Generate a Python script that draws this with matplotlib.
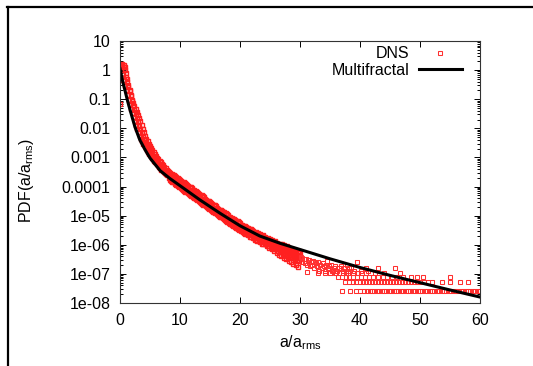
import numpy as np
import matplotlib
matplotlib.use('Agg')
import matplotlib.pyplot as plt
from matplotlib.lines import Line2D
from matplotlib.ticker import FixedLocator, LogLocator, NullFormatter

plt.rcParams['font.family'] = ['Liberation Sans', 'DejaVu Sans']
plt.rcParams['mathtext.fontset'] = 'custom'
plt.rcParams['mathtext.rm'] = 'Liberation Sans'
plt.rcParams['mathtext.it'] = 'Liberation Sans:italic'

# multifractal model curve
mf_a = [0, 0.4, 0.83, 1.25, 1.67, 2.5, 3.3, 4.2, 5, 6.7, 8.3, 10, 13.3,
        16.7, 20, 23.3, 26.7, 30, 35, 40, 45, 50, 55, 60]
mf_pdf = [1.12, 0.45, 0.2, 0.089, 0.043, 0.011, 0.004, 1.8e-3, 9.5e-4,
          3.5e-4, 1.9e-4, 1.07e-4, 3.5e-5, 1.2e-5, 4.5e-6, 2.0e-6, 1.12e-6,
          6.9e-7, 3.3e-7, 1.66e-7, 8.9e-8, 5.0e-8, 2.8e-8, 1.6e-8]

# DNS histograms (log10 pdf), three overlapping runs, bins of width 0.2.
# runs A and C start at a = 0.0, run B at a = 0.1
bin_width = 0.2
dns_log_A = [
    0.14, 0.18, 0.20, 0.19, 0.10, -0.10, -0.30, -0.50, -0.68, -0.84,
    -1.01, -1.14, -1.24, -1.34, -1.44, -1.54, -1.64, -1.74, -1.88, -2.01,
    -2.13, -2.25, -2.36, -2.45, -2.53, -2.61, -2.68, -2.75, -2.82, -2.89,
    -2.96, -3.02, -3.07, -3.12, -3.17, -3.22, -3.27, -3.32, -3.37, -3.42,
    -3.47,
    -3.50, -3.53, -3.56, -3.59, -3.62, -3.65, -3.68, -3.71, -3.74, -3.77,
    -3.80, -3.83, -3.86, -3.88, -3.91, -3.94, -3.97, -4.00, -4.03, -4.06,
    -4.11, -4.13, -4.16, -4.19, -4.22, -4.25, -4.28, -4.30, -4.33, -4.36,
    -4.42, -4.45, -4.48, -4.50, -4.53, -4.56, -4.59, -4.62, -4.65, -4.68,
    -4.74, -4.77, -4.79, -4.82, -4.84, -4.87, -4.89, -4.92, -4.94, -4.97,
    -5.03, -5.06, -5.08, -5.11, -5.13, -5.15, -5.18, -5.20, -5.23, -5.25,
    -5.31, -5.33, -5.35, -5.37, -5.39, -5.41, -5.43, -5.45, -5.47, -5.49,
    -5.52, -5.58, -5.56, -5.62, -5.60, -5.66, -5.63, -5.69, -5.67, -5.73,
    -5.74, -5.80, -5.78, -5.83, -5.81, -5.87, -5.84, -5.90, -5.87, -5.93,
    -5.93, -5.99, -5.96, -6.02, -5.99, -6.05, -6.02, -6.08, -6.05, -6.11,
    -6.11, -6.17, -6.14, -6.20, -6.17, -6.22, -6.20, -6.25, -6.22, -6.27]
dns_log_B = [
    0.17, 0.12, -0.15, -0.35, -0.53, -0.68, -0.84, -1.01, -1.17, -1.32,
    -1.46, -1.60, -1.74, -1.88, -2.01, -2.13, -2.25, -2.36, -2.45, -2.53,
    -2.61, -2.68, -2.75, -2.82, -2.89, -2.96, -3.02, -3.07, -3.12, -3.17,
    -3.22, -3.27, -3.32, -3.37, -3.42, -3.46, -3.51, -3.55, -3.58, -3.61,
    -3.70, -3.77, -3.80, -3.83, -3.86, -3.90, -3.93, -3.96, -3.99, -4.02,
    -4.05, -4.08, -4.11, -4.14, -4.17, -4.20, -4.23, -4.26, -4.29, -4.32,
    -4.35, -4.38, -4.41, -4.44, -4.47, -4.50, -4.53, -4.56, -4.59, -4.62,
    -4.65, -4.68, -4.71, -4.74, -4.77, -4.80, -4.83, -4.86, -4.89, -4.92,
    -4.94, -4.97, -5.00, -5.03, -5.06, -5.09, -5.12, -5.15, -5.18, -5.21,
    -5.24, -5.27, -5.30, -5.33, -5.36, -5.38, -5.41, -5.44, -5.47, -5.50,
    -5.51, -5.53, -5.57, -5.58, -5.62, -5.63, -5.67, -5.68, -5.72, -5.73,
    -5.76, -5.77, -5.82, -5.82, -5.87, -5.87, -5.92, -5.92, -5.97, -5.96,
    -5.99, -5.98, -6.05, -6.03, -6.10, -6.07, -6.16, -6.12, -6.22, -6.16,
    -6.28, -6.20, -6.34, -6.25, -6.40, -6.29, -6.45, -6.33, -6.50, -6.37,
    -6.55, -6.41, -6.60, -6.45, -6.65, -6.48, -6.70, -6.52, -6.75, -6.55]
dns_log_C = [
    0.17, 0.19, 0.16, 0.10, 0.00, -0.22, -0.40, -0.57, -0.72, -0.89,
    -1.05, -1.21, -1.36, -1.50, -1.64, -1.78, -1.91, -2.04, -2.16, -2.28,
    -2.38, -2.47, -2.55, -2.63, -2.70, -2.77, -2.84, -2.91, -2.97, -3.03,
    -3.08, -3.13, -3.18, -3.23, -3.28, -3.33, -3.38, -3.43, -3.47, -3.51,
    -3.55,
    -3.62, -3.65, -3.68, -3.71, -3.74, -3.77, -3.80, -3.83, -3.86, -3.89,
    -3.92, -3.95, -3.98, -4.00, -4.03, -4.06, -4.09, -4.12, -4.15, -4.18,
    -4.23, -4.25, -4.28, -4.31, -4.34, -4.37, -4.40, -4.42, -4.45, -4.48,
    -4.54, -4.57, -4.60, -4.62, -4.65, -4.68, -4.71, -4.74, -4.77, -4.80,
    -4.85, -4.88, -4.90, -4.93, -4.95, -4.98, -5.00, -5.03, -5.05, -5.08,
    -5.14, -5.17, -5.19, -5.22, -5.24, -5.26, -5.29, -5.31, -5.34, -5.36,
    -5.42, -5.44, -5.46, -5.48, -5.50, -5.52, -5.54, -5.56, -5.58, -5.60,
    -5.62, -5.72, -5.66, -5.76, -5.70, -5.80, -5.73, -5.83, -5.77, -5.87,
    -5.85, -5.95, -5.89, -5.98, -5.92, -6.02, -5.95, -6.05, -5.98, -6.08,
    -6.06, -6.16, -6.09, -6.19, -6.12, -6.22, -6.15, -6.25, -6.18, -6.28,
    -6.26, -6.36, -6.29, -6.39, -6.32, -6.41, -6.35, -6.44, -6.37, -6.46]

# odd points near a = 0
dns0_a = [0.0, 0.0]
dns0_pdf = [0.45, 0.07]

# scattered tail points beyond a = 30 (log10 pdf)
tail_a = [30.2, 30.4, 30.6, 30.8, 31.0, 31.2, 31.4, 31.6, 31.8, 32.0,
          32.2, 32.4, 32.6, 32.8, 33.0, 33.2, 33.4, 33.6, 33.8, 34.0,
          34.2, 34.4, 34.6, 34.8, 35.0, 35.2, 35.4, 35.6, 35.8, 36.0,
          36.2, 36.5, 36.8, 37.1, 37.4, 37.7, 38.0, 38.5, 39.0, 39.6,
          40.2, 41.0, 30.3, 31.5, 32.5, 34.5, 37.8, 39.5]
tail_log = [-6.42, -6.58, -6.48, -6.63, -6.50, -6.68, -6.54, -6.74, -6.58, -6.68,
            -6.55, -6.81, -6.63, -6.74, -6.60, -6.89, -6.68, -6.81, -6.63, -6.74,
            -6.89, -6.68, -6.81, -6.74, -6.98, -6.68, -6.89, -6.81, -6.74, -6.98,
            -6.89, -6.81, -6.74, -6.89, -6.81, -6.98, -6.89, -6.81, -6.89, -6.98,
            -6.89, -6.81, -6.46, -6.52, -6.59, -6.57, -6.68, -6.60]
high_a = [31.1, 35.5, 38.2, 41.3, 43.0, 45.8]
high_pdf = [1.2e-7, 1.3e-7, 1.56e-7, 1.3e-7, 1.56e-7, 1.56e-7]

# count levels of the histogram tail (1, 2, 3, 4 samples per bin)
lvl1_pdf = 2.6e-8
lvl1_a = [37.0, 38.3, 39.4, 40.0, 40.6, 41.2, 41.6, 42.0, 42.4, 42.8,
          43.2, 43.6, 44.0, 44.4, 44.8, 45.2, 45.6, 46.0, 46.4, 46.8,
          47.2, 47.6, 48.0, 48.4, 48.8, 49.2, 49.6, 50.0, 50.4, 50.8,
          51.2, 51.6, 52.0, 52.4, 52.8, 53.2, 53.6, 54.0, 54.4, 54.8,
          55.2, 55.6, 56.0, 56.4, 56.8, 57.2, 57.6, 58.0, 58.4, 58.8,
          59.2, 59.6, 60.0]
lvl2_pdf = 5.2e-8
lvl2_a = [37.5, 38.2, 38.8, 39.4, 40.0, 40.5, 41.0, 41.5, 42.0, 42.5,
          43.0, 43.5, 44.0, 44.5, 45.0, 45.5, 46.0, 46.5, 47.0, 47.5,
          48.0, 48.5, 49.0, 49.5, 50.0, 50.6, 51.3, 52.0, 53.7, 55.0,
          56.7, 58.0]
lvl3_pdf = 7.8e-8
lvl3_a = [36.3, 37.0, 37.6, 38.2, 38.8, 39.5, 40.2, 40.8, 41.5, 42.2,
          43.0, 43.8, 44.5, 45.3, 46.2, 47.2, 48.5, 49.5, 50.5, 55.0]
lvl4_pdf = 1.04e-7
lvl4_a = [33.0, 34.2, 35.0, 35.8, 36.5, 37.2, 38.0, 38.8, 39.5, 40.3,
          41.0, 42.5, 44.0, 46.7]

ytick_vals = [10, 1, 0.1, 0.01, 0.001, 0.0001, 1e-5, 1e-6, 1e-7, 1e-8]
ytick_labels = ['10', '1', '0.1', '0.01', '0.001', '0.0001',
                '1e-05', '1e-06', '1e-07', '1e-08']
xtick_vals = [0, 10, 20, 30, 40, 50, 60]


dns_a_A = np.arange(len(dns_log_A)) * bin_width
dns_a_B = np.arange(len(dns_log_B)) * bin_width + bin_width / 2
dns_a_C = np.arange(len(dns_log_C)) * bin_width

band_a = np.concatenate([dns0_a, dns_a_A, dns_a_B, dns_a_C])
band_pdf = np.concatenate([dns0_pdf, 10.0 ** np.array(dns_log_A),
                           10.0 ** np.array(dns_log_B),
                           10.0 ** np.array(dns_log_C)])
sparse_a = np.concatenate([tail_a, high_a, lvl1_a, lvl2_a, lvl3_a, lvl4_a])
sparse_pdf = np.concatenate([10.0 ** np.array(tail_log), high_pdf,
                             [lvl1_pdf] * len(lvl1_a), [lvl2_pdf] * len(lvl2_a),
                             [lvl3_pdf] * len(lvl3_a), [lvl4_pdf] * len(lvl4_a)])

fig = plt.figure(figsize=(5.33, 3.66), dpi=100)
ax = fig.add_axes([120 / 533, 1 - 303 / 366, 360 / 533, 262 / 366])

ax.plot(band_a, band_pdf, ls='none', marker='s', ms=3.2, mfc='none',
        mec='#ff2020', mew=1.0, label='_nolegend_')
ax.plot(sparse_a, sparse_pdf, ls='none', marker='s', ms=3.2, mfc='none',
        mec='#ff3030', mew=0.75, label='DNS')
ax.plot(mf_a, mf_pdf, color='black', lw=2.2, label='Multifractal')

ax.set_yscale('log')
ax.set_xlim(0, 60)
ax.set_ylim(1e-8, 10)

ax.yaxis.set_major_locator(FixedLocator(ytick_vals))
ax.set_yticklabels(ytick_labels)
ax.yaxis.set_minor_locator(LogLocator(base=10, subs=range(2, 10), numticks=100))
ax.yaxis.set_minor_formatter(NullFormatter())
ax.set_xticks(xtick_vals)

ax.tick_params(which='both', direction='in', top=True, right=True,
               labelsize=11.5, width=0.7)
ax.tick_params(which='major', length=4, pad=7)
ax.tick_params(which='minor', length=2)
for s in ax.spines.values():
    s.set_linewidth(0.8)
    s.set_color('#333333')

fig.text(27 / 533, 1 - 180 / 366, 'PDF(a/a$_{\\mathrm{rms}}$)', rotation=90,
         ha='center', va='center', fontsize=11.5)
fig.text(300 / 533, 1 - 343 / 366, 'a/a$_{\\mathrm{rms}}$',
         ha='center', va='center', fontsize=11.5)

ax.legend(loc='upper right', bbox_to_anchor=((462 - 120) / 360, 0.98),
          markerfirst=False, frameon=False, numpoints=1, fontsize=11.5,
          handlelength=2.7, handletextpad=0.6, labelspacing=0.1,
          borderaxespad=0, borderpad=0)

# page border lines (top and left)
fig.add_artist(Line2D([7 / 533, 1], [1 - 6.5 / 366, 1 - 6.5 / 366],
                      color='black', lw=1.6))
fig.add_artist(Line2D([7.5 / 533, 7.5 / 533], [0, 1 - 6.5 / 366],
                      color='black', lw=1.6))

fig.savefig('out.png', dpi=100)
